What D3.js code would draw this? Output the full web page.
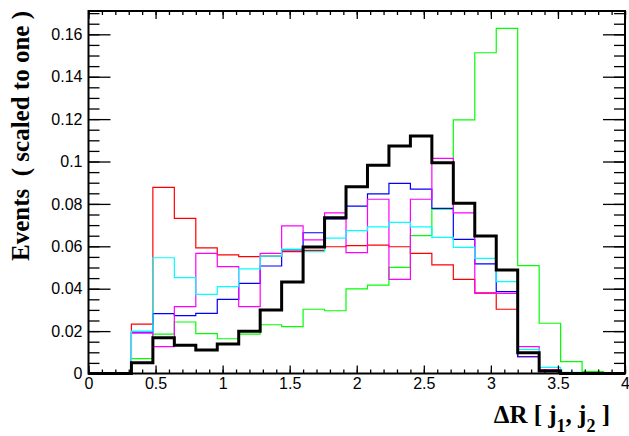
<!DOCTYPE html>
<html>
<head>
<meta charset="utf-8">
<script src="https://cdn.jsdelivr.net/npm/d3@7"></script>
<style>
  body { margin: 0; background: #fff; }
  text { white-space: pre; }
</style>
</head>
<body>
<svg id="chart" width="629" height="436"></svg>
<script>
// bin edges: 25 bins of 0.16 from 0 to 4
var binWidth = 0.16
var nBins = 25

var red     = [0, 0, 0.0233, 0.0878, 0.0732, 0.0593, 0.0560, 0.0551, 0.0554, 0.0575, 0.0581, 0.0598, 0.0603, 0.0606, 0.0598, 0.0567, 0.0512, 0.0444, 0.0381, 0.0303, 0.0079, 0.0017, 0, 0, 0]
var green   = [0, 0, 0.0070, 0.0186, 0.0243, 0.0188, 0.0164, 0.0186, 0.0230, 0.0221, 0.0303, 0.0296, 0.0399, 0.0417, 0.0501, 0.0650, 0.0775, 0.1196, 0.1513, 0.1628, 0.0509, 0.0237, 0.0056, 0.0009, 0]
var blue    = [0, 0, 0.0195, 0.0282, 0.0273, 0.0284, 0.0350, 0.0425, 0.0507, 0.0583, 0.0664, 0.0729, 0.0790, 0.0847, 0.0897, 0.0870, 0.0779, 0.0633, 0.0517, 0.0386, 0.0079, 0.0012, 0, 0, 0]
var magenta = [0, 0, 0.0190, 0.0127, 0.0315, 0.0567, 0.0504, 0.0315, 0.0567, 0.0696, 0.0630, 0.0758, 0.0570, 0.0822, 0.0444, 0.0822, 0.1015, 0.0758, 0.0378, 0.0378, 0.0127, 0.0017, 0, 0, 0]
var cyan    = [0, 0, 0.0200, 0.0546, 0.0452, 0.0373, 0.0410, 0.0494, 0.0554, 0.0587, 0.0575, 0.0639, 0.0674, 0.0692, 0.0713, 0.0692, 0.0642, 0.0595, 0.0543, 0.0433, 0.0114, 0.0029, 0.0006, 0, 0]
var black   = [0, 0, 0.0051, 0.0169, 0.0133, 0.0111, 0.0139, 0.0199, 0.0300, 0.0432, 0.0597, 0.0735, 0.0881, 0.0982, 0.1073, 0.1120, 0.0994, 0.0803, 0.0649, 0.0488, 0.0098, 0.0012, 0, 0, 0]

var xTicks = [0, 0.5, 1, 1.5, 2, 2.5, 3, 3.5, 4]
var yTicks = [0, 0.02, 0.04, 0.06, 0.08, 0.1, 0.12, 0.14, 0.16]

var series = [
  {values: red, color: "#ff0000", w: 1.2},
  {values: green, color: "#00ff00", w: 1.2},
  {values: blue, color: "#0000ff", w: 1.2},
  {values: magenta, color: "#ff00ff", w: 1.2},
  {values: cyan, color: "#00ffff", w: 1.2},
  {values: black, color: "#000000", w: 3}
]

var padL = 88.5, padR = 625, padT = 11, padB = 373.5

var svg = d3.select("#chart")

var x = d3.scaleLinear().domain([0, 4]).range([padL, padR])
var y = d3.scaleLinear().domain([0, 0.171]).range([padB, padT])

var line = d3.line()
  .x(function(d) { return x(d[0]) })
  .y(function(d) { return y(d[1]) })
  .curve(d3.curveStepAfter)

series.forEach(function(s) {
  var pts = s.values.map(function(v, i) { return [i * binWidth, v] })
  pts.push([nBins * binWidth, s.values[nBins - 1]])
  svg.append("path")
    .attr("d", line(pts))
    .attr("fill", "none")
    .attr("stroke", s.color)
    .attr("stroke-width", s.w)
})

var numFont = "'Liberation Sans', Arial, sans-serif"
var fmt = function(d) { return d === 0 ? "0" : String(+d.toFixed(2)) }

function styleAxis(g) {
  g.select(".domain").remove()
  g.selectAll("line").attr("stroke", "#000").attr("stroke-width", 1.3)
  g.selectAll("text").attr("font-family", numFont).attr("font-size", 16).attr("fill", "#000")
}

// minor ticks
var xMinor = d3.range(0, 4.001, 0.1)
var yMinor = d3.range(0, 0.1701, 0.005)

svg.append("g").attr("transform", "translate(0," + padB + ")")
  .call(d3.axisBottom(x).tickValues(xMinor).tickSize(-4).tickFormat(""))
  .call(styleAxis)
svg.append("g").attr("transform", "translate(0," + padT + ")")
  .call(d3.axisTop(x).tickValues(xMinor).tickSize(-4).tickFormat(""))
  .call(styleAxis)
svg.append("g").attr("transform", "translate(" + padL + ",0)")
  .call(d3.axisLeft(y).tickValues(yMinor).tickSize(-11).tickFormat(""))
  .call(styleAxis)
svg.append("g").attr("transform", "translate(" + padR + ",0)")
  .call(d3.axisRight(y).tickValues(yMinor).tickSize(-11).tickFormat(""))
  .call(styleAxis)

// major ticks
svg.append("g").attr("transform", "translate(0," + padB + ")")
  .call(d3.axisBottom(x).tickValues(xTicks).tickSize(-8).tickPadding(4.5).tickFormat(fmt))
  .call(styleAxis)
svg.append("g").attr("transform", "translate(0," + padT + ")")
  .call(d3.axisTop(x).tickValues(xTicks).tickSize(-8).tickFormat(""))
  .call(styleAxis)
svg.append("g").attr("transform", "translate(" + padL + ",0)")
  .call(d3.axisLeft(y).tickValues(yTicks).tickSize(-22).tickPadding(6).tickFormat(fmt))
  .call(styleAxis)
svg.append("g").attr("transform", "translate(" + padR + ",0)")
  .call(d3.axisRight(y).tickValues(yTicks).tickSize(-22).tickFormat(""))
  .call(styleAxis)

// frame
svg.append("rect")
  .attr("x", padL).attr("y", padT)
  .attr("width", padR - padL).attr("height", padB - padT)
  .attr("fill", "none").attr("stroke", "#000").attr("stroke-width", 2)

var titleFont = "'Liberation Serif', 'Times New Roman', serif"

svg.append("text")
  .attr("transform", "translate(29," + padT + ") rotate(-90)")
  .attr("text-anchor", "end")
  .attr("font-family", titleFont).attr("font-weight", "bold").attr("font-size", 25)
  .text("Events  ( scaled to one )")

var xt = svg.append("text")
  .attr("x", 610).attr("y", 423)
  .attr("text-anchor", "end")
  .attr("font-family", titleFont).attr("font-weight", "bold").attr("font-size", 25)
xt.append("tspan").text("ΔR [ j")
xt.append("tspan").attr("dy", 9).attr("font-size", 18).text("1")
xt.append("tspan").attr("dy", -9).text(", j")
xt.append("tspan").attr("dy", 9).attr("font-size", 18).text("2")
xt.append("tspan").attr("dy", -9).text(" ]")
</script>
</body>
</html>
